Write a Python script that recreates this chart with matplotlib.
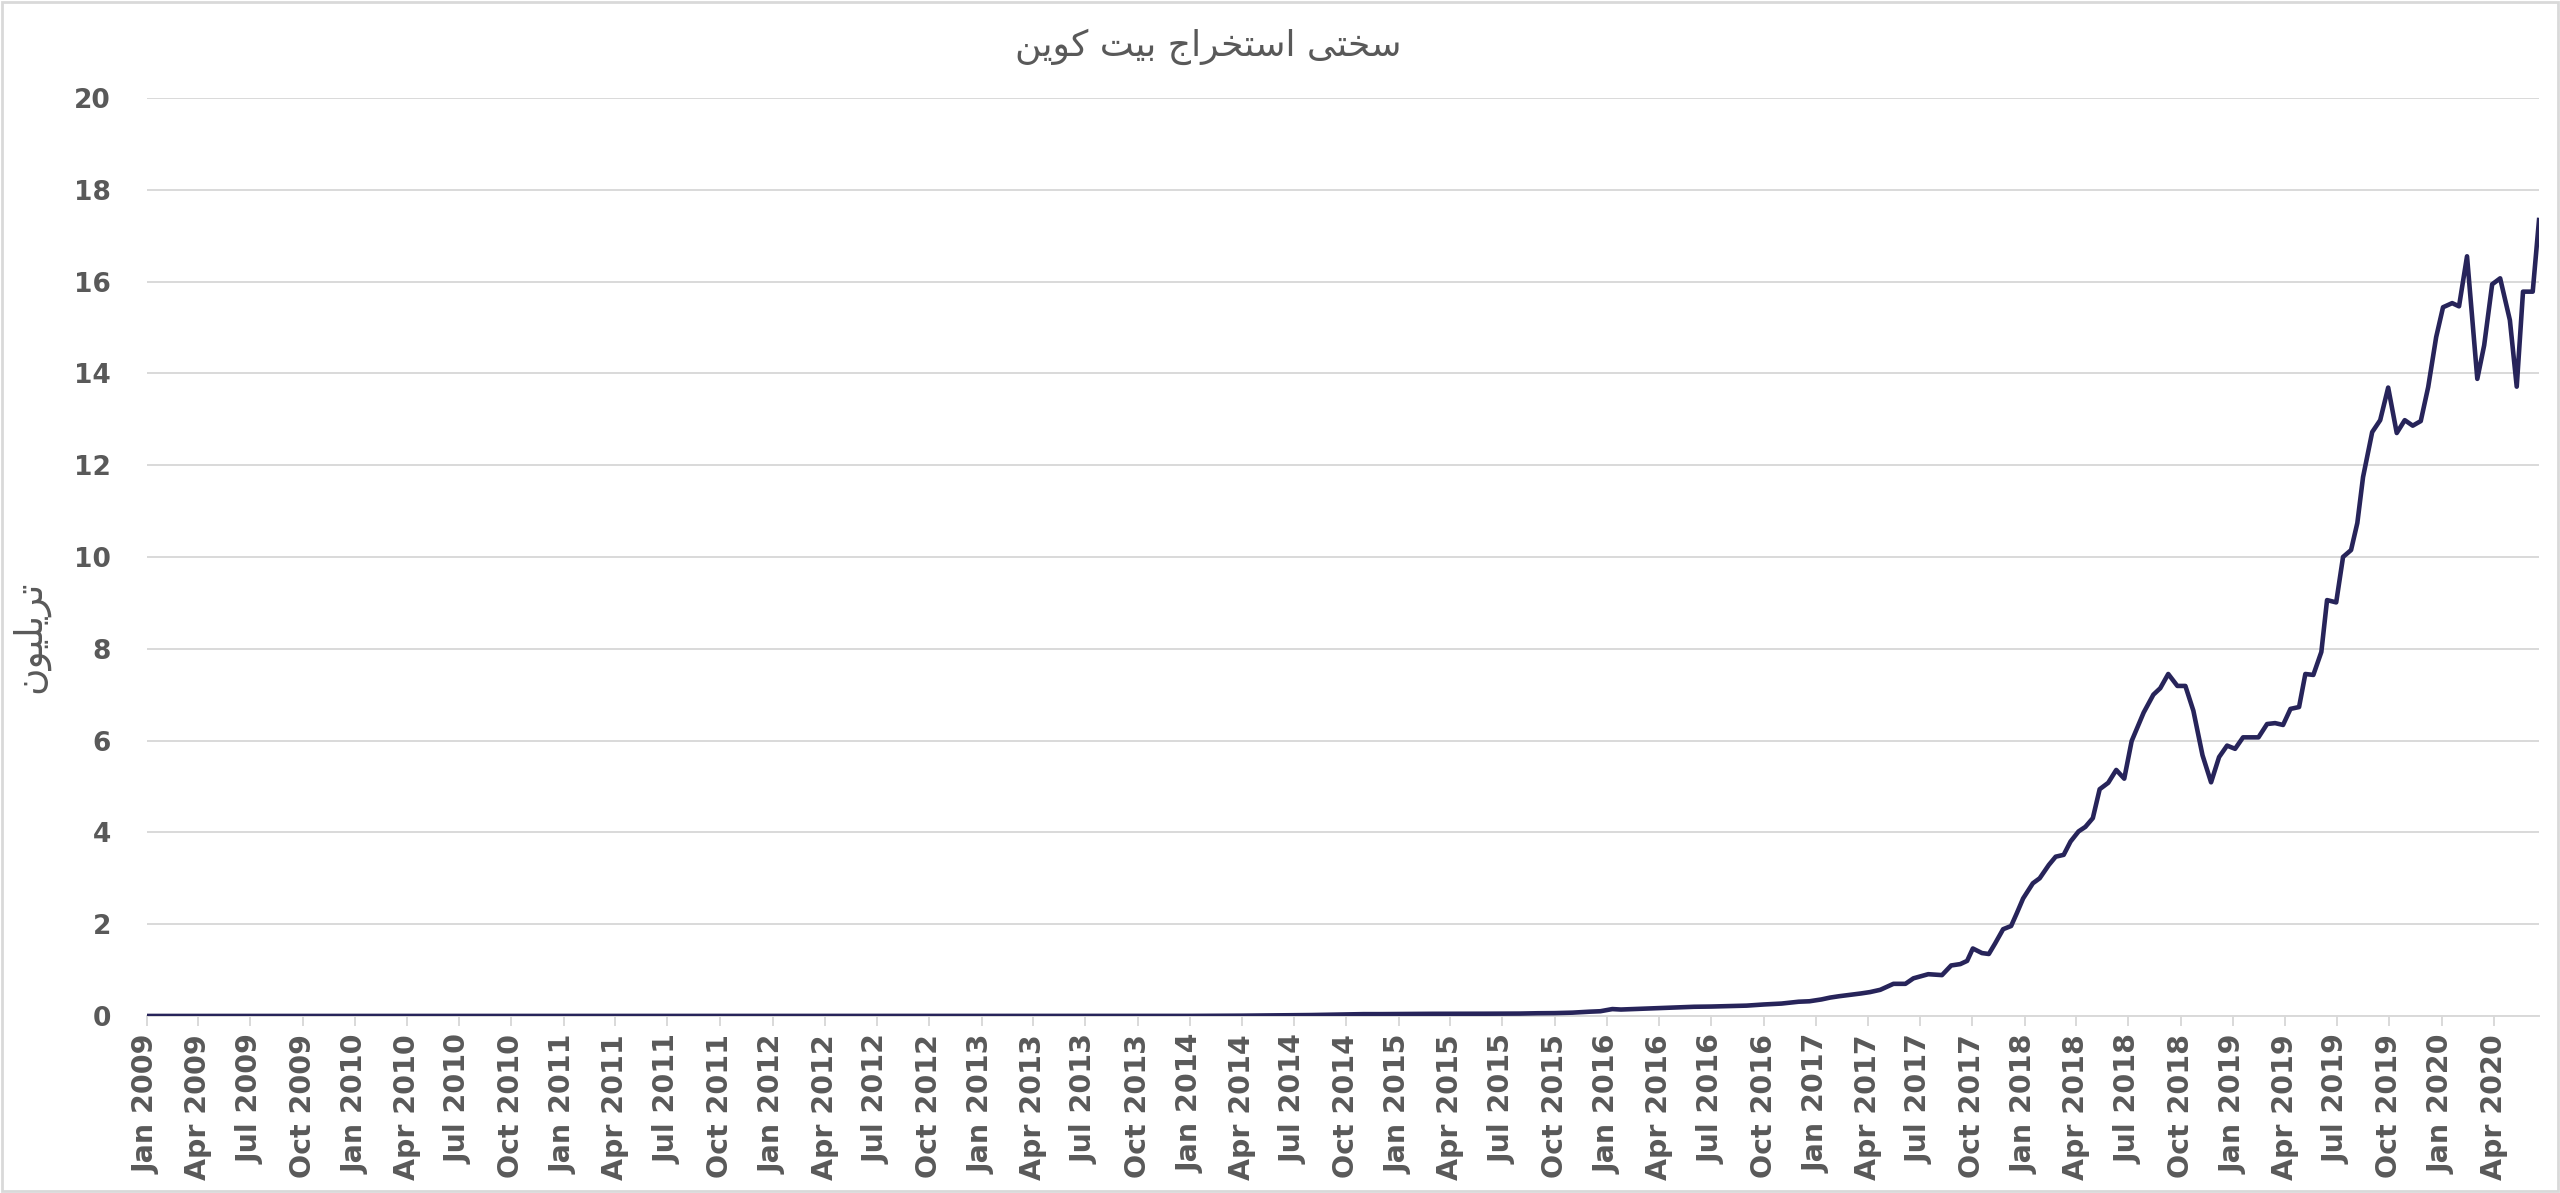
import matplotlib
matplotlib.use("Agg")
import matplotlib.pyplot as plt
import matplotlib.dates as mdates
from matplotlib.patches import Rectangle
import pandas as pd

# ---- Bitcoin mining difficulty (trillions) ----
dates = [
    "2009-01-01", "2010-01-01", "2010-12-01", "2011-07-01", "2012-01-01", "2012-07-01",
    "2013-01-01", "2013-07-01", "2014-01-01", "2014-04-01",
    "2014-07-01", "2014-08-01", "2014-09-01", "2014-10-01", "2014-11-01", "2014-12-01",
    "2015-01-01", "2015-02-01", "2015-03-01", "2015-04-01", "2015-05-01", "2015-06-01",
    "2015-07-01", "2015-08-01", "2015-09-01", "2015-10-01", "2015-11-01", "2015-12-01",
    "2015-12-20", "2016-01-10", "2016-01-25", "2016-02-15", "2016-03-10", "2016-04-01",
    "2016-05-01", "2016-06-01", "2016-07-01", "2016-08-01", "2016-09-01", "2016-10-01",
    "2016-11-01", "2016-12-01", "2016-12-20", "2017-01-10", "2017-01-25", "2017-02-10",
    "2017-03-01", "2017-03-20", "2017-04-05", "2017-04-23", "2017-05-16", "2017-06-06",
    "2017-06-20", "2017-07-16", "2017-08-09", "2017-08-25", "2017-09-10", "2017-09-22",
    "2017-10-02", "2017-10-18", "2017-10-30", "2017-11-10", "2017-11-24", "2017-12-08",
    "2017-12-18", "2017-12-29", "2018-01-15", "2018-01-27", "2018-02-12", "2018-02-24",
    "2018-03-10", "2018-03-22", "2018-04-05", "2018-04-17", "2018-04-30", "2018-05-12",
    "2018-05-27", "2018-06-10", "2018-06-24", "2018-07-07", "2018-07-28", "2018-08-14",
    "2018-08-26", "2018-09-09", "2018-09-25", "2018-10-09", "2018-10-23", "2018-11-08",
    "2018-11-23", "2018-12-07", "2018-12-21", "2019-01-04", "2019-01-18", "2019-02-01",
    "2019-02-14", "2019-03-01", "2019-03-15", "2019-03-29", "2019-04-11", "2019-04-26",
    "2019-05-07", "2019-05-21", "2019-06-04", "2019-06-14", "2019-06-30", "2019-07-12",
    "2019-07-26", "2019-08-06", "2019-08-16", "2019-09-01", "2019-09-15", "2019-09-29",
    "2019-10-14", "2019-10-28", "2019-11-11", "2019-11-25", "2019-12-08", "2019-12-22",
    "2020-01-03", "2020-01-19", "2020-01-31", "2020-02-14", "2020-03-03", "2020-03-15",
    "2020-03-29", "2020-04-12", "2020-04-29", "2020-05-11", "2020-05-22", "2020-06-08",
    "2020-06-19",
]
difficulty_t = [
    0.0, 0.0, 0.00000001, 0.0000016, 0.0000012, 0.0000019,
    0.0000034, 0.000026, 0.0014, 0.0061,
    0.017, 0.020, 0.027, 0.035, 0.040, 0.040,
    0.043, 0.046, 0.047, 0.047, 0.048, 0.049,
    0.051, 0.052, 0.059, 0.062, 0.072, 0.093,
    0.103, 0.150, 0.140, 0.150, 0.160, 0.170,
    0.185, 0.200, 0.205, 0.215, 0.225, 0.250,
    0.270, 0.310, 0.320, 0.360, 0.400, 0.430,
    0.460, 0.490, 0.520, 0.570, 0.700, 0.700,
    0.820, 0.910, 0.890, 1.100, 1.130, 1.200,
    1.470, 1.370, 1.350, 1.580, 1.890, 1.960,
    2.240, 2.560, 2.890, 3.000, 3.290, 3.470,
    3.510, 3.800, 4.020, 4.120, 4.310, 4.940,
    5.080, 5.360, 5.170, 5.990, 6.610, 7.000,
    7.140, 7.450, 7.190, 7.190, 6.650, 5.680,
    5.090, 5.640, 5.890, 5.820, 6.070, 6.070,
    6.070, 6.360, 6.380, 6.340, 6.690, 6.730,
    7.450, 7.430, 7.930, 9.060, 9.010, 10.000,
    10.150, 10.740, 11.740, 12.720, 12.980, 13.690,
    12.700, 12.980, 12.860, 12.960, 13.700, 14.790,
    15.440, 15.530, 15.460, 16.550, 13.880, 14.610,
    15.940, 16.070, 15.160, 13.710, 15.780, 15.780,
    17.340,
]
y_ticks = [0, 2, 4, 6, 8, 10, 12, 14, 16, 18, 20]

TITLE = "سختی استخراج بیت کوین"
YLABEL = "تریلیون"

LINE = "#27245A"; GRID = "#D9D9D9"; TXT = "#595959"

# matplotlib 3.10 has no Arabic shaping: map letters to presentation forms
# (isolated, final, initial, medial) and reverse for right-to-left display
FORMS = {
    "ا": ("\uFE8D", "\uFE8E", None, None),
    "ب": ("\uFE8F", "\uFE90", "\uFE91", "\uFE92"),
    "ت": ("\uFE95", "\uFE96", "\uFE97", "\uFE98"),
    "ج": ("\uFE9D", "\uFE9E", "\uFE9F", "\uFEA0"),
    "خ": ("\uFEA5", "\uFEA6", "\uFEA7", "\uFEA8"),
    "ر": ("\uFEAD", "\uFEAE", None, None),
    "س": ("\uFEB1", "\uFEB2", "\uFEB3", "\uFEB4"),
    "ل": ("\uFEDD", "\uFEDE", "\uFEDF", "\uFEE0"),
    "ن": ("\uFEE5", "\uFEE6", "\uFEE7", "\uFEE8"),
    "و": ("\uFEED", "\uFEEE", None, None),
    "ی": ("\uFBFC", "\uFBFD", "\uFBFE", "\uFBFF"),
    "ک": ("\uFB8E", "\uFB8F", "\uFB90", "\uFB91"),
}
NON_LEFT = set("ارو")


def shape_fa(s):
    out = []
    for i, ch in enumerate(s):
        if ch not in FORMS:
            out.append(ch)
            continue
        prev = s[i - 1] if i > 0 else ""
        nxt = s[i + 1] if i + 1 < len(s) else ""
        jp = prev in FORMS and prev not in NON_LEFT
        jn = ch not in NON_LEFT and nxt in FORMS
        iso, fin, ini, med = FORMS[ch]
        if jp and jn:
            out.append(med)
        elif jp:
            out.append(fin)
        elif jn:
            out.append(ini)
        else:
            out.append(iso)
    return "".join(reversed(out))


plt.rcParams["font.family"] = ["DejaVu Sans"]

x = pd.to_datetime(dates)

fig = plt.figure(figsize=(25.6, 11.93), dpi=100)
ax = fig.add_axes([0.0574, 0.1484, 0.9344, 0.7695])

ax.plot(x, difficulty_t, color=LINE, lw=3.3, solid_joinstyle="round", zorder=3)

ax.set_ylim(0, 20)
ax.set_yticks(y_ticks)
ax.set_xlim(x[0], x[-1])
ax.xaxis.set_major_locator(mdates.MonthLocator(bymonth=[1, 4, 7, 10]))
ax.xaxis.set_major_formatter(mdates.DateFormatter("%b %Y"))

ax.grid(axis="y", color=GRID, lw=1.4)
ax.grid(axis="x", visible=False)
ax.set_axisbelow(True)
for s in ["top", "right", "left"]:
    ax.spines[s].set_visible(False)
ax.spines["bottom"].set_color(GRID)
ax.spines["bottom"].set_linewidth(1.4)

ax.tick_params(axis="y", length=0, pad=26, labelsize=19, labelcolor=TXT)
ax.tick_params(axis="x", length=7, width=1.4, color=GRID, pad=6,
               labelsize=20.5, labelcolor=TXT, labelrotation=90)
for lab in ax.get_xticklabels() + ax.get_yticklabels():
    lab.set_fontweight("bold")

fig.text(0.472, 0.961, shape_fa(TITLE), ha="center", va="center",
         fontsize=26, color=TXT)
fig.text(0.0117, 0.466, shape_fa(YLABEL), ha="center", va="center",
         rotation=90, fontsize=27, color=TXT)

# light frame around the whole picture
fig.add_artist(Rectangle((0.0008, 0.0017), 0.9984, 0.9966, transform=fig.transFigure,
                         fill=False, ec=GRID, lw=2))

fig.savefig("out.png", dpi=100, facecolor="white")
